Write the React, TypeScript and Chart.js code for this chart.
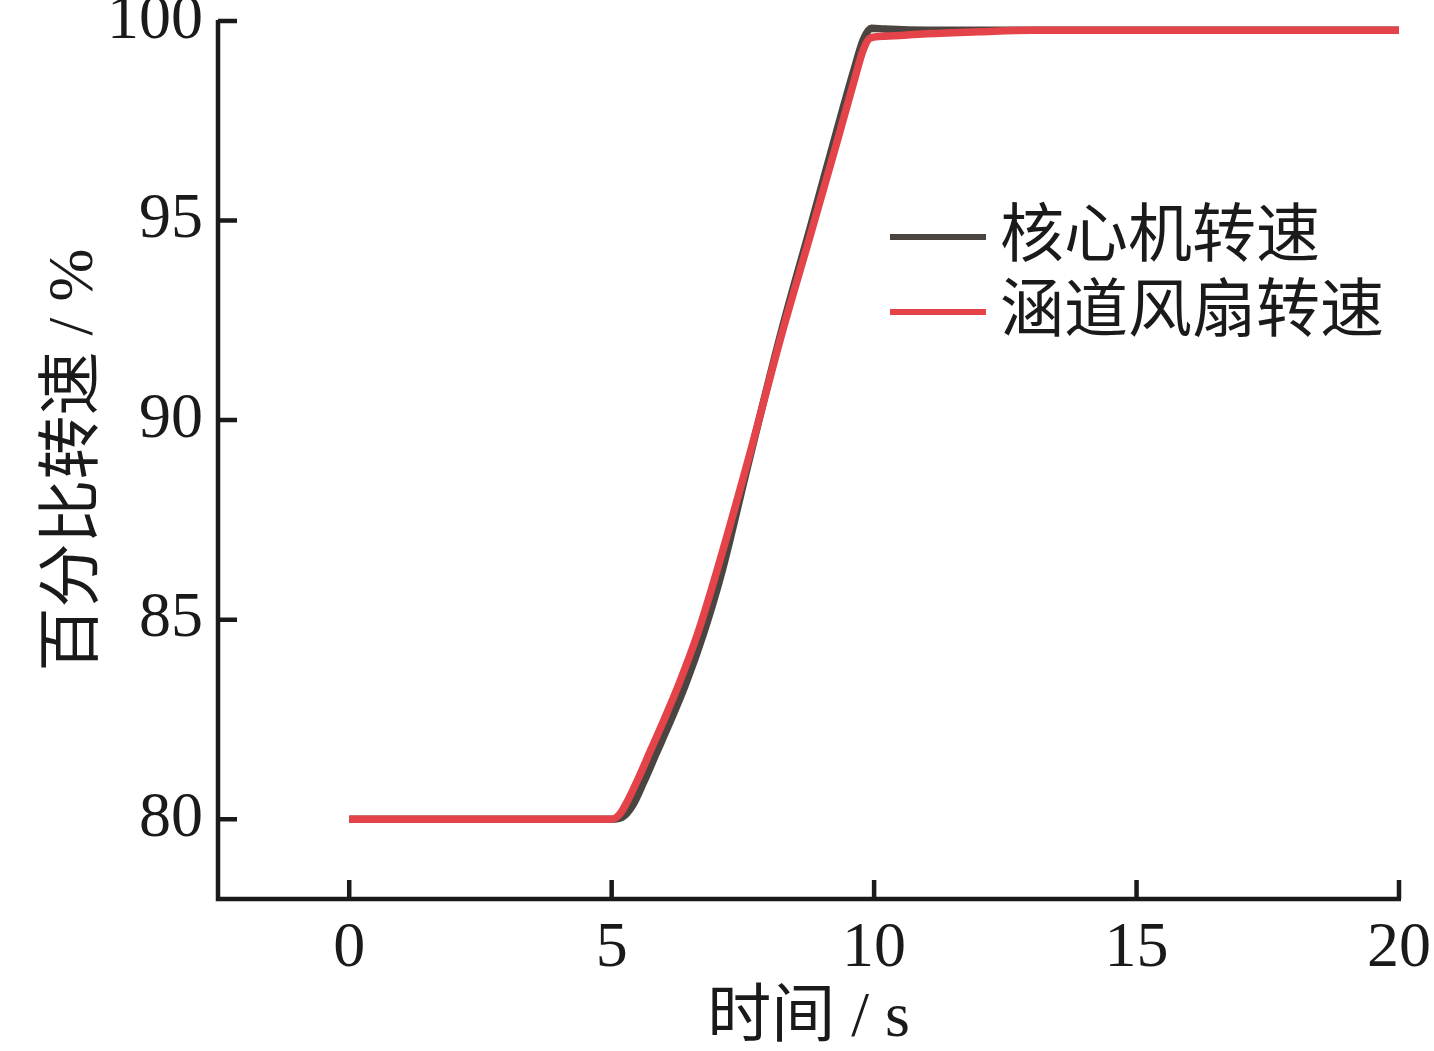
import React, { useEffect, useRef } from "react";
import { Chart, registerables } from "chart.js";

Chart.register(...registerables);

// ---- data ----
const xTickValues = [0, 5, 10, 15, 20];
const yTickValues = [80, 85, 90, 95, 100];
const xRange = [-2.5, 20];
const yRange = [78, 100];

const seriesNames = ["核心机转速", "涵道风扇转速"];
const xTitle = "时间 / s";
const yTitle = "百分比转速 / %";

// core engine speed
const coreTime = [0, 5, 5.2, 5.4, 5.6, 5.85, 6.1, 6.4, 6.75, 7.1, 7.6, 8.25, 8.8, 9.3, 9.6, 9.8, 9.95, 10.2, 11, 20];
const coreSpeed = [80, 80, 80.05, 80.35, 80.9, 81.65, 82.4, 83.35, 84.65, 86.2, 88.9, 92.3, 94.9, 97.3, 98.7, 99.55, 99.82, 99.8, 99.77, 99.77];

// ducted fan speed
const fanTime = [0, 5, 5.15, 5.3, 5.5, 5.75, 6.0, 6.3, 6.65, 7.0, 7.6, 8.25, 8.8, 9.3, 9.64, 9.8, 9.92, 10.2, 11, 12, 13, 20];
const fanSpeed = [80, 80, 80.12, 80.45, 81.0, 81.75, 82.5, 83.45, 84.7, 86.2, 89.0, 92.2, 94.7, 97.0, 98.6, 99.3, 99.57, 99.62, 99.68, 99.73, 99.77, 99.77];

// ---- styles ----
const FONT = "'Liberation Serif', 'Times New Roman', 'Noto Sans CJK SC', serif";
const TEXT = "#1a1a1a";
const CORE_COLOR = "#4a4540";
const FAN_COLOR = "#e5434a";

const axesPlugin = {
  id: "inwardAxes",
  afterDraw(chart: any) {
    const { ctx, chartArea, scales } = chart;
    const { left, right, top, bottom } = chartArea;
    const xs = scales.x;
    const ys = scales.y;
    ctx.save();
    ctx.strokeStyle = TEXT;
    ctx.lineWidth = 4.5;
    ctx.lineJoin = "miter";
    ctx.beginPath();
    ctx.moveTo(left, top - 1);
    ctx.lineTo(left, bottom);
    ctx.lineTo(right + 2, bottom);
    ctx.stroke();
    ctx.beginPath();
    for (const v of yTickValues) {
      const py = ys.getPixelForValue(v);
      ctx.moveTo(left, py);
      ctx.lineTo(left + 19, py);
    }
    for (const v of xTickValues) {
      const px = xs.getPixelForValue(v);
      ctx.moveTo(px, bottom);
      ctx.lineTo(px, bottom - 19);
    }
    ctx.stroke();

    // legend
    const colors = [CORE_COLOR, FAN_COLOR];
    const legendYs = [237, 312];
    ctx.font = `64px ${FONT}`;
    ctx.textBaseline = "middle";
    ctx.textAlign = "left";
    seriesNames.forEach((name, i) => {
      ctx.strokeStyle = colors[i];
      ctx.lineWidth = 6;
      ctx.beginPath();
      ctx.moveTo(890, legendYs[i]);
      ctx.lineTo(986, legendYs[i]);
      ctx.stroke();
      ctx.fillStyle = TEXT;
      ctx.fillText(name, 1000, legendYs[i] + 2);
    });
    ctx.restore();
  },
};

export default function App() {
  const ref = useRef<HTMLCanvasElement | null>(null);
  useEffect(() => {
    if (!ref.current) return;
    const chart = new Chart(ref.current, {
      type: "line",
      data: {
        datasets: [
          {
            label: seriesNames[1],
            data: fanTime.map((t, i) => ({ x: t, y: fanSpeed[i] })),
            borderColor: FAN_COLOR,
            borderWidth: 7.5,
            pointRadius: 0,
            cubicInterpolationMode: "monotone",
            order: 0,
          },
          {
            label: seriesNames[0],
            data: coreTime.map((t, i) => ({ x: t, y: coreSpeed[i] })),
            borderColor: CORE_COLOR,
            borderWidth: 7.5,
            pointRadius: 0,
            cubicInterpolationMode: "monotone",
            order: 1,
          },
        ],
      },
      options: {
        responsive: false,
        animation: false,
        devicePixelRatio: 1,
        layout: { padding: { left: 0, top: 21, right: 35, bottom: 0 } },
        plugins: { legend: { display: false }, tooltip: { enabled: false } },
        scales: {
          x: {
            type: "linear",
            min: xRange[0],
            max: xRange[1],
            afterBuildTicks: (s: any) => {
              s.ticks = xTickValues.map((v) => ({ value: v }));
            },
            afterFit: (s: any) => {
              s.height = 1051 - 899;
              s.paddingLeft = 0;
              s.paddingRight = 0;
            },
            grid: { display: false, drawTicks: false },
            border: { display: false },
            ticks: {
              color: TEXT,
              padding: 12,
              maxRotation: 0,
              font: { family: FONT, size: 64 },
            },
            title: {
              display: true,
              text: xTitle,
              color: TEXT,
              padding: { top: 0, bottom: 0 },
              font: { family: FONT, size: 64, lineHeight: 1 },
            },
          },
          y: {
            type: "linear",
            min: yRange[0],
            max: yRange[1],
            afterBuildTicks: (s: any) => {
              s.ticks = yTickValues.map((v) => ({ value: v }));
            },
            afterFit: (s: any) => {
              s.width = 218;
              s.paddingTop = 0;
              s.paddingBottom = 0;
            },
            grid: { display: false, drawTicks: false },
            border: { display: false },
            ticks: {
              color: TEXT,
              padding: 15,
              font: { family: FONT, size: 64 },
            },
            title: {
              display: true,
              text: yTitle,
              color: TEXT,
              padding: { top: 43, bottom: 0 },
              font: { family: FONT, size: 64, lineHeight: 1 },
            },
          },
        },
      },
      plugins: [axesPlugin],
    } as any);
    return () => chart.destroy();
  }, []);
  return (
    <div style={{ position: "absolute", left: 0, top: 0, width: 1434, height: 1051, background: "#fff" }}>
      <canvas ref={ref} width={1434} height={1051} />
    </div>
  );
}
